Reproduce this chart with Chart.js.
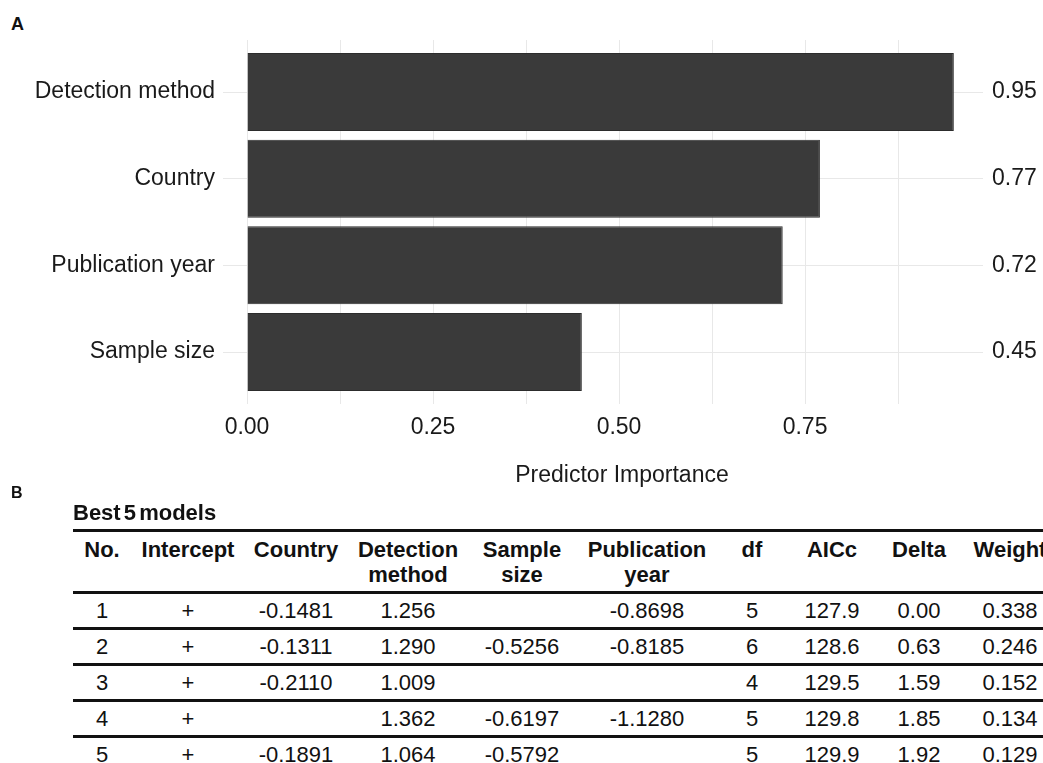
<!DOCTYPE html>
<html>
<head>
<meta charset="utf-8">
<title>Predictor importance and best models</title>
<script src="https://cdn.jsdelivr.net/npm/chart.js@4/dist/chart.umd.min.js"></script>
<style>
  html, body { margin: 0; padding: 0; background: #ffffff; }
  body { width: 1043px; height: 763px; overflow: hidden; position: relative;
         font-family: "Liberation Sans", Arial, sans-serif; color: #111; }
  #panelA { position: absolute; left: 0; top: 0; }
  .tag { position: absolute; font-weight: bold; line-height: 1; }
  #caption { position: absolute; left: 73px; top: 499px; font-weight: bold; font-size: 22px;
             line-height: 28px; word-spacing: -3px; }
  #models { position: absolute; left: 73px; top: 529px; border-collapse: separate;
            border-spacing: 0; table-layout: fixed; width: 988px; font-size: 22px; }
  #models th, #models td { padding: 0; text-align: center; white-space: nowrap;
                           border-bottom: 3px solid #111; overflow: visible; }
  #models th { font-weight: bold; vertical-align: top; line-height: 25px;
               padding-top: 5px; height: 54px; border-top: 3px solid #111; }
  #models td { height: 33px; line-height: 33px; }
</style>
</head>
<body>
<div class="tag" style="left:11px; top:15px; font-size:18px;">A</div>
<canvas id="panelA" width="1043" height="500"></canvas>
<div class="tag" style="left:11px; top:485px; font-size:16px;">B</div>
<div id="caption">Best 5 models</div>
<table id="models">
  <colgroup>
    <col style="width:58px"><col style="width:114px"><col style="width:102px">
    <col style="width:122px"><col style="width:106px"><col style="width:144px">
    <col style="width:66px"><col style="width:94px"><col style="width:80px">
    <col style="width:102px">
  </colgroup>
  <thead></thead>
  <tbody></tbody>
</table>
<script>
// Panel A: relative importance of each predictor
const predictors = ["Detection method", "Country", "Publication year", "Sample size"];
const importance = [0.95, 0.77, 0.72, 0.45];
const importanceTicks = [0, 0.125, 0.25, 0.375, 0.5, 0.625, 0.75, 0.875];

// Panel B: the five best-ranked models
const headers = ["No.", "Intercept", "Country", "Detection<br>method", "Sample<br>size",
                 "Publication<br>year", "df", "AICc", "Delta", "Weight"];
const modelNo = [1, 2, 3, 4, 5];
const intercept = ["+", "+", "+", "+", "+"];
const coefCountry = [-0.1481, -0.1311, -0.2110, null, -0.1891];
const coefDetection = [1.256, 1.290, 1.009, 1.362, 1.064];
const coefSample = [null, -0.5256, null, -0.6197, -0.5792];
const coefPubYear = [-0.8698, -0.8185, null, -1.1280, null];
const dfs = [5, 6, 4, 5, 5];
const aicc = [127.9, 128.6, 129.5, 129.8, 129.9];
const delta = [0.00, 0.63, 1.59, 1.85, 1.92];
const weight = [0.338, 0.246, 0.152, 0.134, 0.129];

const FONT = "'Liberation Sans', Arial, sans-serif";
const TEXT = "#1a1a1a";
const GRID = "#e8e8e8";

// x-axis title, centred under the panel including its value labels
const axisTitle = {
  id: "axisTitle",
  afterDraw(chart) {
    const { ctx, chartArea } = chart;
    ctx.save();
    ctx.font = "23px " + FONT;
    ctx.fillStyle = TEXT;
    ctx.textAlign = "center";
    ctx.textBaseline = "middle";
    ctx.fillText("Predictor Importance", (chartArea.left + chartArea.right) / 2 + 19, 476);
    ctx.restore();
  }
};

const catTicks = (scale) => { scale.ticks = predictors.map((_, i) => ({ value: i })); };

new Chart(document.getElementById("panelA"), {
  type: "bar",
  data: {
    datasets: [{
      data: predictors.map((p, i) => ({ x: importance[i], y: i })),
      backgroundColor: "#3a3a3a",
      borderColor: "#2c2c2c",
      borderWidth: 1,
      barPercentage: 0.9,
      categoryPercentage: 1.0
    }]
  },
  options: {
    indexAxis: "y",
    responsive: false,
    animation: false,
    layout: { padding: { top: 40, right: 0, bottom: 0, left: 0 } },
    plugins: { legend: { display: false }, tooltip: { enabled: false } },
    scales: {
      x: {
        type: "linear",
        min: -0.0323,
        max: 0.9892,
        afterBuildTicks: (s) => { s.ticks = importanceTicks.map(v => ({ value: v })); },
        afterFit: (s) => { s.height = 96; },
        grid: { color: GRID, lineWidth: 1, drawTicks: false },
        border: { display: false },
        ticks: {
          autoSkip: false, maxRotation: 0, padding: 10,
          color: TEXT, font: { family: FONT, size: 23 },
          callback: (v) => (Math.abs(v * 4 - Math.round(v * 4)) < 1e-9 ? Number(v).toFixed(2) : "")
        }
      },
      y: {
        type: "linear",
        position: "left",
        min: -0.6,
        max: 3.6,
        reverse: true,
        offset: false,
        afterBuildTicks: catTicks,
        afterFit: (s) => { s.width = 223; },
        grid: { color: GRID, lineWidth: 1, drawTicks: false, offset: false },
        border: { display: false },
        ticks: {
          autoSkip: false, padding: 8, color: TEXT,
          font: { family: FONT, size: 23 },
          callback: (v) => predictors[v]
        }
      },
      yValue: {
        type: "linear",
        position: "right",
        min: -0.6,
        max: 3.6,
        reverse: true,
        offset: false,
        afterBuildTicks: catTicks,
        afterFit: (s) => { s.width = 60; },
        grid: { display: false, drawTicks: false, offset: false },
        border: { display: false },
        ticks: {
          autoSkip: false, padding: 9, color: TEXT,
          font: { family: FONT, size: 23 },
          callback: (v) => importance[v].toFixed(2)
        }
      }
    }
  },
  plugins: [axisTitle]
});

// Build the model-selection table
const fmt = (v, d) => (v === null ? "" : v.toFixed(d));
const thead = document.querySelector("#models thead");
thead.innerHTML = "<tr>" + headers.map(h => "<th>" + h + "</th>").join("") + "</tr>";
const tbody = document.querySelector("#models tbody");
tbody.innerHTML = modelNo.map((n, i) => {
  const cells = [
    String(n), intercept[i], fmt(coefCountry[i], 4), fmt(coefDetection[i], 3),
    fmt(coefSample[i], 4), fmt(coefPubYear[i], 4), String(dfs[i]),
    fmt(aicc[i], 1), fmt(delta[i], 2), fmt(weight[i], 3)
  ];
  return "<tr>" + cells.map(c => "<td>" + c + "</td>").join("") + "</tr>";
}).join("");
</script>
</body>
</html>
